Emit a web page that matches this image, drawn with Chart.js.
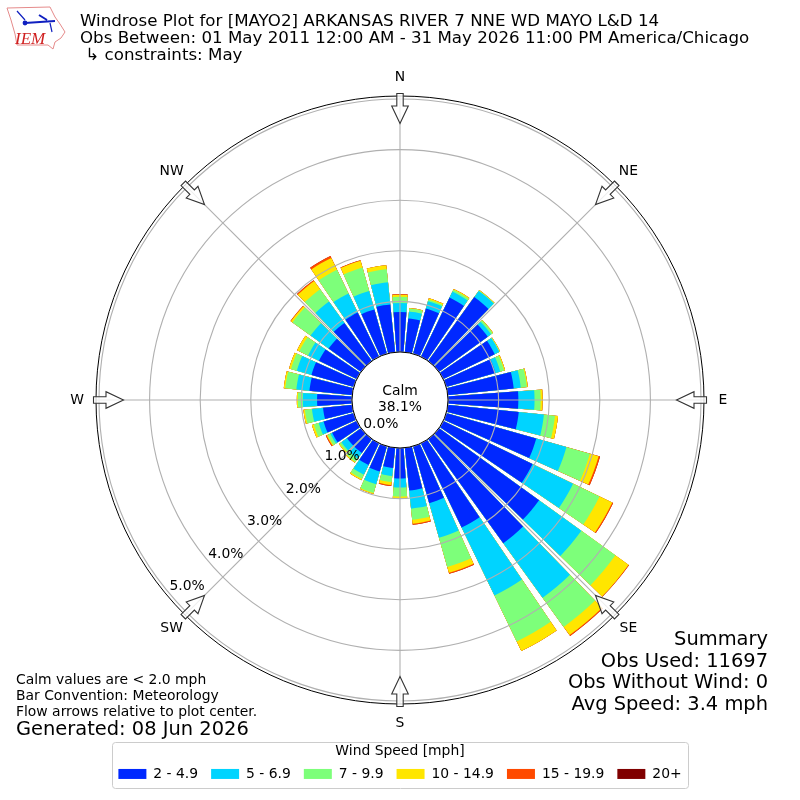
<!DOCTYPE html>
<html>
<head>
<meta charset="utf-8">
<title>Windrose Plot</title>
<style>
  html, body { margin: 0; padding: 0; background: #fff; }
  canvas { display: block; }
</style>
<script src="https://cdn.jsdelivr.net/npm/chart.js@4"></script>
</head>
<body>
<canvas id="rosa" width="800" height="800"></canvas>
<script>
// percent of obs per 10 degree sector, N going clockwise
const speed2to5 = [0.79,0.67,0.93,1.30,1.56,1.19,1.13,1.01,1.31,1.39,1.41,1.85,1.96,2.44,2.54,1.85,1.17,0.85,
                   0.60,0.40,0.52,0.48,0.34,0.34,0.54,0.62,0.58,0.69,0.85,0.87,0.83,0.79,0.93,0.97,0.91,0.95];
const speed5to7 = [0.18,0.14,0.15,0.13,0.15,0.08,0.10,0.10,0.14,0.32,0.50,0.62,0.89,1.03,1.33,1.49,0.71,0.36,
                   0.18,0.16,0.26,0.21,0.14,0.14,0.04,0.10,0.22,0.28,0.26,0.30,0.24,0.44,0.52,0.42,0.38,0.44];
const speed7to10 = [0.12,0.06,0.03,0.04,0.01,0.04,0.01,0.08,0.12,0.12,0.22,0.48,0.58,0.83,0.71,1.01,0.60,0.22,
                    0.18,0.12,0.18,0.09,0.08,0.04,0.06,0.10,0.14,0.10,0.22,0.12,0.19,0.44,0.30,0.52,0.48,0.26];
const speed10to15 = [0.04,0.01,0.03,0.02,0.01,0.01,0.01,0.02,0.02,0.04,0.06,0.18,0.28,0.32,0.20,0.21,0.12,0.08,
                     0.04,0.06,0.02,0.03,0.02,0.02,0.02,0.04,0.03,0.02,0.03,0.04,0.05,0.04,0.20,0.26,0.14,0.08];
const speed15to20 = [0.01,0,0,0,0,0,0,0,0,0,0,0.03,0.02,0.01,0.02,0,0.02,0.02,
                     0,0.02,0,0,0,0,0.02,0,0,0,0,0,0,0.01,0.02,0.04,0.01,0];
const speed20up = [0,0,0,0,0,0,0,0,0,0,0,0,0,0,0,0,0,0,0,0,0,0,0,0,0,0,0,0,0,0,0,0,0,0,0,0];

const binLabels = ['2 - 4.9', '5 - 6.9', '7 - 9.9', '10 - 14.9', '15 - 19.9', '20+'];
const binColors = ['#0028ff', '#00d4ff', '#7dff7a', '#ffe600', '#ff4a00', '#800000'];
const binValues = [speed2to5, speed5to7, speed7to10, speed10to15, speed15to20, speed20up];

const radialTicks = [0, 1, 2, 3, 4, 5];
const compassLabels = ['N', 'NE', 'E', 'SE', 'S', 'SW', 'W', 'NW'];
const titleLines = [
  'Windrose Plot for [MAYO2] ARKANSAS RIVER 7 NNE WD MAYO L&D 14',
  'Obs Between: 01 May 2011 12:00 AM - 31 May 2026 11:00 PM America/Chicago',
  ' \u21B3 constraints: May'
];
const summaryLines = ['Summary', 'Obs Used: 11697', 'Obs Without Wind: 0', 'Avg Speed: 3.4 mph'];
const noteLines = ['Calm values are < 2.0 mph', 'Bar Convention: Meteorology', 'Flow arrows relative to plot center.'];

const FONT = '"DejaVu Sans"';
const BAR_DEG = 8.4;
const GAP_DEG = 10 - BAR_DEG;
const AXIS_MIN = -0.949;  // hole in the middle for the calm circle
const AXIS_MAX = 5.059;
const LABEL_BEARING = 230;

// bars overlap from the center, so each ring holds the running total
// every sector is followed by an empty slot which makes the gap
let acumulado = speed2to5.map(() => 0);
const datasets = binValues.map((serie, b) => {
  acumulado = acumulado.map((v, i) => v + serie[i]);
  return {
    label: binLabels[b],
    data: acumulado.flatMap(v => [v, AXIS_MIN]),
    backgroundColor: binColors[b],
    borderWidth: 0,
    angle: ctx => (ctx.index % 2 ? GAP_DEG : BAR_DEG)
  };
});

function polar(scale, r, bearing) {
  const a = bearing * Math.PI / 180;
  return { x: scale.xCenter + r * Math.sin(a), y: scale.yCenter - r * Math.cos(a) };
}

function drawArrow(ctx, scale, bearing) {
  const p = polar(scale, 306.5, bearing);
  ctx.save();
  ctx.translate(p.x, p.y);
  ctx.rotate(bearing * Math.PI / 180);
  // local y grows toward the center
  ctx.beginPath();
  ctx.moveTo(-3.2, 0);
  ctx.lineTo(3.2, 0);
  ctx.lineTo(3.2, 12.5);
  ctx.lineTo(8.3, 12.5);
  ctx.lineTo(0, 30);
  ctx.lineTo(-8.3, 12.5);
  ctx.lineTo(-3.2, 12.5);
  ctx.closePath();
  ctx.fillStyle = 'rgba(255,255,255,0.8)';
  ctx.fill();
  ctx.strokeStyle = '#333';
  ctx.lineWidth = 1.1;
  ctx.stroke();
  ctx.restore();
}

function drawLogo(ctx) {
  ctx.save();
  ctx.strokeStyle = '#e58a8a';
  ctx.lineWidth = 1;
  ctx.beginPath();
  const borde = [[7,8],[50,7],[55,17],[60,24],[65,32],[61,38],[55,42],[53,49],[48,45],[17,45],[15,34],[11,20]];
  borde.forEach((p, i) => (i ? ctx.lineTo(p[0], p[1]) : ctx.moveTo(p[0], p[1])));
  ctx.closePath();
  ctx.stroke();
  ctx.strokeStyle = '#1020c0';
  ctx.fillStyle = '#1020c0';
  ctx.lineWidth = 2;
  ctx.beginPath();
  ctx.moveTo(25, 23); ctx.lineTo(55, 21);
  ctx.moveTo(39, 15); ctx.lineTo(47, 20);
  ctx.stroke();
  ctx.lineWidth = 1.2;
  ctx.beginPath();
  ctx.moveTo(17, 11); ctx.lineTo(25, 20);
  ctx.moveTo(50, 23); ctx.lineTo(52, 32);
  ctx.stroke();
  ctx.beginPath();
  ctx.arc(25, 23, 2.4, 0, Math.PI * 2);
  ctx.fill();
  ctx.fillStyle = '#d02020';
  ctx.font = 'italic 17px "Liberation Serif"';
  ctx.textAlign = 'left';
  ctx.textBaseline = 'alphabetic';
  ctx.fillText('IEM', 15, 44);
  ctx.restore();
}

const decoracion = {
  id: 'decoracion',
  afterDraw(chart) {
    const ctx = chart.ctx;
    const scale = chart.scales.r;
    const cx = scale.xCenter;
    const cy = scale.yCenter;
    const outer = scale.drawingArea;
    const inner = scale.getDistanceFromCenterForValue(0);
    ctx.save();

    // spokes above the bars
    ctx.strokeStyle = '#b0b0b0';
    ctx.lineWidth = 1.1;
    compassLabels.forEach((_, i) => {
      const p = polar(scale, outer, i * 45);
      ctx.beginPath();
      ctx.moveTo(cx, cy);
      ctx.lineTo(p.x, p.y);
      ctx.stroke();
    });

    // center and frame
    ctx.beginPath();
    ctx.arc(cx, cy, inner, 0, Math.PI * 2);
    ctx.fillStyle = '#fff';
    ctx.fill();
    ctx.strokeStyle = '#000';
    ctx.lineWidth = 1;
    ctx.stroke();
    ctx.beginPath();
    ctx.arc(cx, cy, outer, 0, Math.PI * 2);
    ctx.stroke();

    compassLabels.forEach((_, i) => drawArrow(ctx, scale, i * 45));

    ctx.fillStyle = '#000';
    ctx.font = '13.9px ' + FONT;
    ctx.textAlign = 'center';
    ctx.textBaseline = 'middle';
    compassLabels.forEach((txt, i) => {
      const p = polar(scale, outer + 19, i * 45);
      ctx.fillText(txt, p.x, p.y);
    });
    ctx.fillText('Calm', cx, cy - 8.5);
    ctx.fillText('38.1%', cx, cy + 7.5);

    // percent labels along one bearing
    ctx.textAlign = 'left';
    ctx.textBaseline = 'bottom';
    radialTicks.forEach(v => {
      const p = polar(scale, scale.getDistanceFromCenterForValue(v), LABEL_BEARING);
      ctx.fillText(v.toFixed(1) + '%', p.x, p.y);
    });

    // titulo
    ctx.textBaseline = 'middle';
    ctx.font = '16.67px ' + FONT;
    titleLines.forEach((t, i) => ctx.fillText(t, 80, 21.5 + i * 17.2));

    ctx.font = '13.9px ' + FONT;
    noteLines.forEach((t, i) => ctx.fillText(t, 16, 680 + i * 16));
    ctx.font = '19.44px ' + FONT;
    ctx.fillText('Generated: 08 Jun 2026', 16, 729.5);

    ctx.textAlign = 'right';
    summaryLines.forEach((t, i) => ctx.fillText(t, 768, 640 + i * 21.7));

    // marco de la leyenda
    ctx.strokeStyle = '#cccccc';
    ctx.lineWidth = 1;
    ctx.beginPath();
    ctx.roundRect(112.5, 742.5, 576, 46, 3);
    ctx.stroke();

    ctx.restore();
    drawLogo(ctx);
  }
};

new Chart(document.getElementById('rosa'), {
  type: 'polarArea',
  data: {
    labels: speed2to5.flatMap((_, i) => [String(i * 10), '']),
    datasets: datasets
  },
  options: {
    responsive: false,
    devicePixelRatio: 1,
    animation: false,
    font: { family: FONT },
    layout: { padding: { top: 96, left: 96, right: 96, bottom: 9.1 } },
    scales: {
      r: {
        min: AXIS_MIN,
        max: AXIS_MAX,
        bounds: 'data',
        startAngle: -BAR_DEG / 2,
        ticks: { display: false },
        afterBuildTicks: scale => { scale.ticks = radialTicks.map(v => ({ value: v })); },
        pointLabels: { display: false },
        angleLines: { display: false },
        grid: { circular: true, color: '#b0b0b0', lineWidth: 1.1, z: 1 }
      }
    },
    plugins: {
      tooltip: { enabled: false },
      legend: {
        position: 'bottom',
        title: {
          display: true,
          text: 'Wind Speed [mph]',
          color: '#000',
          font: { family: FONT, size: 13.9 },
          padding: { top: 40.7, bottom: -7.4 }
        },
        labels: {
          color: '#000',
          font: { family: FONT, size: 13.9 },
          boxWidth: 28,
          boxHeight: 10,
          padding: 13,
          generateLabels: chart => chart.data.datasets.map((d, i) => ({
            text: d.label,
            fillStyle: d.backgroundColor,
            strokeStyle: d.backgroundColor,
            lineWidth: 0,
            fontColor: '#000',
            hidden: false,
            datasetIndex: i
          }))
        }
      }
    }
  },
  plugins: [decoracion]
});
</script>
</body>
</html>
